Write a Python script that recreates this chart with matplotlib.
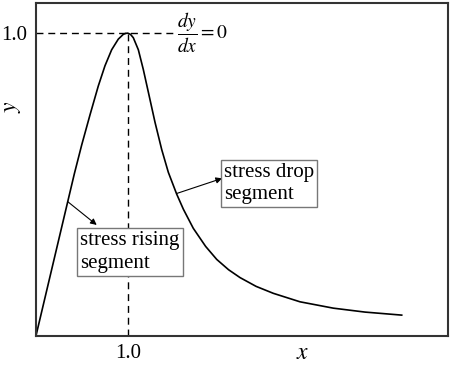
import matplotlib
matplotlib.use('Agg')
import matplotlib.pyplot as plt

plt.rcParams['font.family'] = ['Liberation Serif', 'DejaVu Serif']
plt.rcParams['mathtext.fontset'] = 'stix'

# curve (x normalised to peak, y normalised to peak stress)
curve_x = [0.0, 0.346, 0.418, 0.498, 0.589, 0.679, 0.752, 0.825, 0.897, 0.952,
           0.975, 1.0, 1.03, 1.061, 1.116, 1.170, 1.225, 1.298, 1.371, 1.443,
           1.534, 1.607, 1.715, 1.85, 1.971, 2.1, 2.225, 2.4, 2.588, 2.879,
           3.242, 3.588, 3.988]
curve_y = [0.0, 0.443, 0.535, 0.630, 0.730, 0.825, 0.892, 0.945, 0.980, 0.996,
           0.999, 1.0, 0.996, 0.985, 0.945, 0.880, 0.805, 0.705, 0.615, 0.540,
           0.468, 0.418, 0.355, 0.295, 0.252, 0.218, 0.192, 0.163, 0.140, 0.112,
           0.091, 0.078, 0.068]

peak_x = 1.0
peak_y = 1.0

fig = plt.figure(figsize=(4.5, 3.65), dpi=100)
ax = fig.add_axes([0.08, 0.0803, 0.915, 0.911])

ax.plot(curve_x, curve_y, color='black', lw=1.2)

# guide lines at the peak
ax.plot([0, 1.52], [peak_y, peak_y], color='black', lw=1.0, dashes=(5, 3.5))
ax.plot([peak_x, peak_x], [0, peak_y], color='black', lw=1.0, dashes=(5, 3.5))

ax.text(1.535, 1.0, r'$\dfrac{dy}{dx}=0$', fontsize=14, va='center', ha='left')

box = dict(boxstyle='square,pad=0.15', fc='white', ec='#777777', lw=1.0)

ax.annotate('', xy=(0.662, 0.366), xytext=(0.346, 0.443),
            arrowprops=dict(arrowstyle='-|>', color='black', lw=0.8,
                            mutation_scale=9, shrinkA=0, shrinkB=0))
ax.text(0.48, 0.345, 'stress rising\nsegment', fontsize=15, va='top', ha='left',
        linespacing=1.25, bbox=box)

ax.annotate('', xy=(2.03, 0.520), xytext=(1.534, 0.47),
            arrowprops=dict(arrowstyle='-|>', color='black', lw=0.8,
                            mutation_scale=9, shrinkA=0, shrinkB=0))
ax.text(2.05, 0.572, 'stress drop\nsegment', fontsize=15, va='top', ha='left',
        linespacing=1.25, bbox=box)

ax.set_xlim(0, 4.49)
ax.set_ylim(0, 1.099)
ax.set_xticks([1.0])
ax.set_xticklabels(['1.0'])
ax.set_yticks([1.0])
ax.set_yticklabels(['1.0'])
ax.tick_params(length=0, labelsize=15, pad=6)

ax.text(2.91, -0.058, r'$x$', fontsize=17, ha='center', va='center')
ax.text(-0.26, 0.756, r'$y$', fontsize=17, ha='center', va='center', rotation=90)

for s in ax.spines.values():
    s.set_color('#333333')
    s.set_linewidth(1.5)

fig.savefig('out.png', dpi=100)
